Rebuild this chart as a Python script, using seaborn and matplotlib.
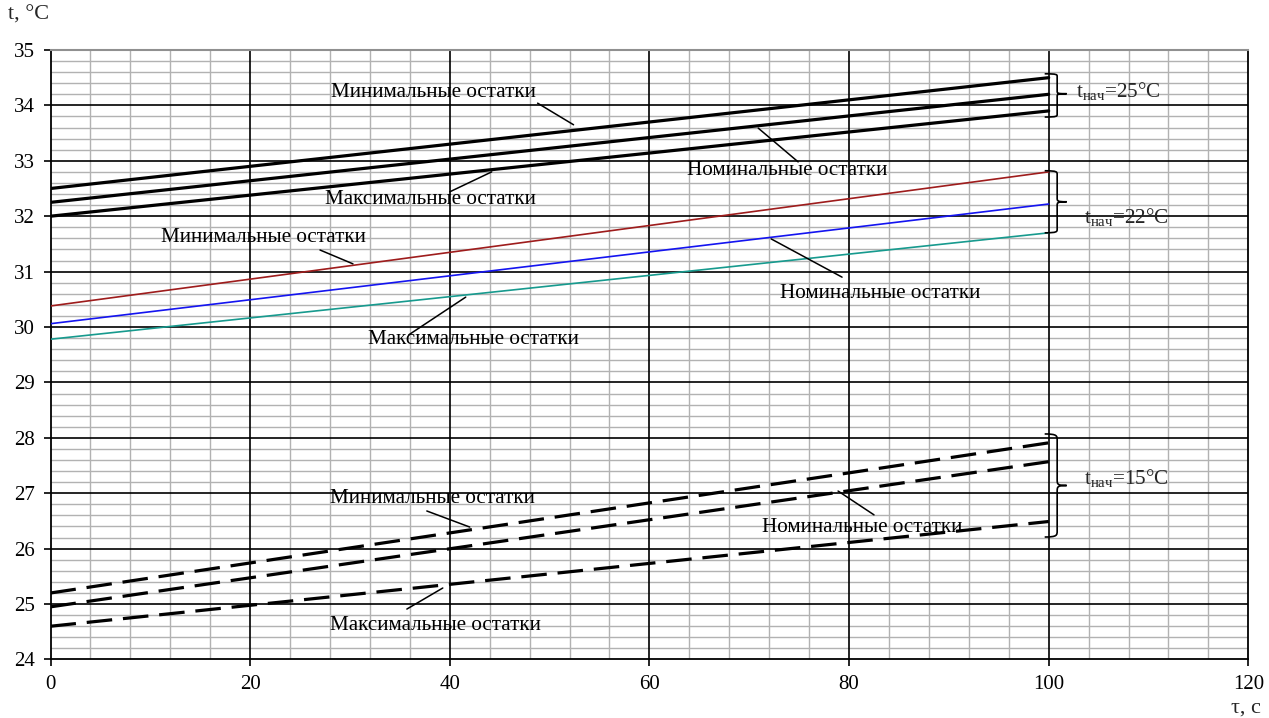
import numpy as np
import pandas as pd
import matplotlib
matplotlib.use("Agg")
import matplotlib.pyplot as plt
from matplotlib.path import Path
from matplotlib.patches import PathPatch
import seaborn as sns

# ---- data ----
tau = [0, 100]
t25_min = [32.50, 34.50]
t25_nom = [32.25, 34.20]
t25_max = [32.00, 33.90]
t22_min = [30.38, 32.80]
t22_nom = [30.06, 32.22]
t22_max = [29.78, 31.70]
t15_min = [25.20, 27.91]
t15_nom = [24.95, 27.57]
t15_max = [24.60, 26.49]
x_ticks = [0, 20, 40, 60, 80, 100, 120]
y_ticks = [24, 25, 26, 27, 28, 29, 30, 31, 32, 33, 34, 35]
lbl_min = "Минимальные остатки"
lbl_nom = "Номинальные остатки"
lbl_max = "Максимальные остатки"
group_labels = ["25", "22", "15"]

sns.set_theme(style="white")
plt.rcParams["font.family"] = ["Liberation Serif", "DejaVu Serif"]
plt.rcParams["mathtext.fontset"] = "custom"
plt.rcParams["mathtext.rm"] = "Liberation Serif"
plt.rcParams["mathtext.it"] = "Liberation Serif"

fig = plt.figure(figsize=(12.69, 7.18), dpi=100)
ax = fig.add_axes([0.0398, 0.0815, 0.9439, 0.8489])

# grid
ax.set_xlim(0, 120)
ax.set_ylim(24, 35)
ax.set_xticks(x_ticks)
ax.set_yticks(y_ticks)
xm = [v for v in range(0, 121, 4) if v % 20 != 0]
ym = [round(24 + 0.2 * i, 1) for i in range(56) if i % 5 != 0]
ax.set_xticks(xm, minor=True)
ax.set_yticks(ym, minor=True)
ax.grid(which="minor", color="#b2b2b2", lw=1.0)
ax.grid(which="major", visible=False)
ax.set_axisbelow(True)
for xv in x_ticks[1:-1]:
    ax.axvline(xv, color="black", lw=1.2, zorder=1)
for yv in y_ticks[1:-1]:
    ax.axhline(yv, color="black", lw=1.2, zorder=1)

# lines
solid = dict(color="black", lw=2.3, zorder=3)
for ys in (t25_min, t25_nom, t25_max):
    sns.lineplot(x=tau, y=ys, ax=ax, **solid)
sns.lineplot(x=tau, y=t22_min, ax=ax, color="#9e1c1c", lw=1.2, zorder=3)
sns.lineplot(x=tau, y=t22_nom, ax=ax, color="#1414f0", lw=1.2, zorder=3)
sns.lineplot(x=tau, y=t22_max, ax=ax, color="#179a8e", lw=1.2, zorder=3)
for ys in (t15_min, t15_nom, t15_max):
    ln = sns.lineplot(x=tau, y=ys, ax=ax, color="black", lw=2.3, zorder=3).lines[-1]
    ln.set_dashes((8.0, 3.4))
    ln.set_dash_capstyle("butt")

fs = 15
fa = 15.2
# annotations: (text xy, leader start, leader end)
ann = [
    (lbl_min, (38.4, 34.24), (48.8, 34.04), (52.4, 33.65)),
    (lbl_nom, (73.8, 32.83), (70.9, 33.59), (74.9, 32.98)),
    (lbl_max, (38.1, 32.31), (44.2, 32.80), (40.0, 32.44)),
    (lbl_min, (21.3, 31.61), (27.0, 31.39), (30.3, 31.14)),
    (lbl_nom, (83.1, 30.61), (72.2, 31.59), (79.3, 30.90)),
    (lbl_max, (42.4, 29.77), (41.6, 30.54), (35.9, 29.86)),
    (lbl_min, (38.3, 26.91), (37.7, 26.68), (42.0, 26.39)),
    (lbl_nom, (81.3, 26.39), (78.9, 27.04), (82.5, 26.61)),
    (lbl_max, (38.6, 24.62), (39.3, 25.29), (35.7, 24.91)),
]
for txt, pos, p0, p1 in ann:
    ax.text(pos[0], pos[1], txt, ha="center", va="center", fontsize=fa, color="black", zorder=5)
    ax.plot([p0[0], p1[0]], [p0[1], p1[1]], color="black", lw=1.1, zorder=5)


def brace(ax, x0, xv, xt, ybot, ytop, ymid):
    r = 0.06 * (ytop - ybot)
    verts = [
        (x0, ytop), (xv, ytop), (xv, ytop - r * 0.3), (xv, ytop - r),
        (xv, ymid + r),
        (xv, ymid + r * 0.2), (xv, ymid), (xt, ymid),
        (xv, ymid), (xv, ymid - r * 0.2), (xv, ymid - r),
        (xv, ybot + r),
        (xv, ybot + r * 0.3), (xv, ybot), (x0, ybot),
    ]
    codes = [Path.MOVETO, Path.CURVE4, Path.CURVE4, Path.CURVE4,
             Path.LINETO,
             Path.CURVE4, Path.CURVE4, Path.CURVE4,
             Path.CURVE4, Path.CURVE4, Path.CURVE4,
             Path.LINETO,
             Path.CURVE4, Path.CURVE4, Path.CURVE4]
    ax.add_patch(PathPatch(Path(verts, codes), fill=False, lw=1.2, color="black", zorder=6, clip_on=False))


brace(ax, 99.6, 100.85, 101.8, 33.79, 34.57, 34.21)
brace(ax, 99.6, 100.85, 101.8, 31.70, 32.82, 32.26)
brace(ax, 99.6, 100.85, 101.8, 26.21, 28.07, 27.14)

for g, (xx, yy) in zip(group_labels, [(102.7, 34.26), (103.5, 31.98), (103.5, 27.27)]):
    ax.text(xx, yy, r"$\mathrm{t_{нач}}$=" + g + "°C", fontsize=fa, ha="left", va="center", zorder=6)

# axes styling
for s in ("left", "bottom", "right"):
    ax.spines[s].set_color("black")
    ax.spines[s].set_linewidth(1.3)
ax.spines["top"].set_color("#909090")
ax.spines["top"].set_linewidth(1.5)
ax.tick_params(axis="both", which="major", direction="out", length=5, width=1.2,
               color="black", labelsize=fs, labelcolor="black", pad=6)
ax.tick_params(axis="both", which="minor", length=0)
ax.tick_params(axis="x", bottom=True)
ax.tick_params(axis="y", left=True)
ax.set_xlabel("")
ax.set_ylabel("")

fig.text(8 / 1269, 1 - 15 / 718, "t, °C", fontsize=16, ha="left", va="center")
fig.text(1246 / 1269, 1 - 708 / 718, "τ, с", fontsize=16, ha="center", va="center")

fig.savefig("out.png", dpi=100)
